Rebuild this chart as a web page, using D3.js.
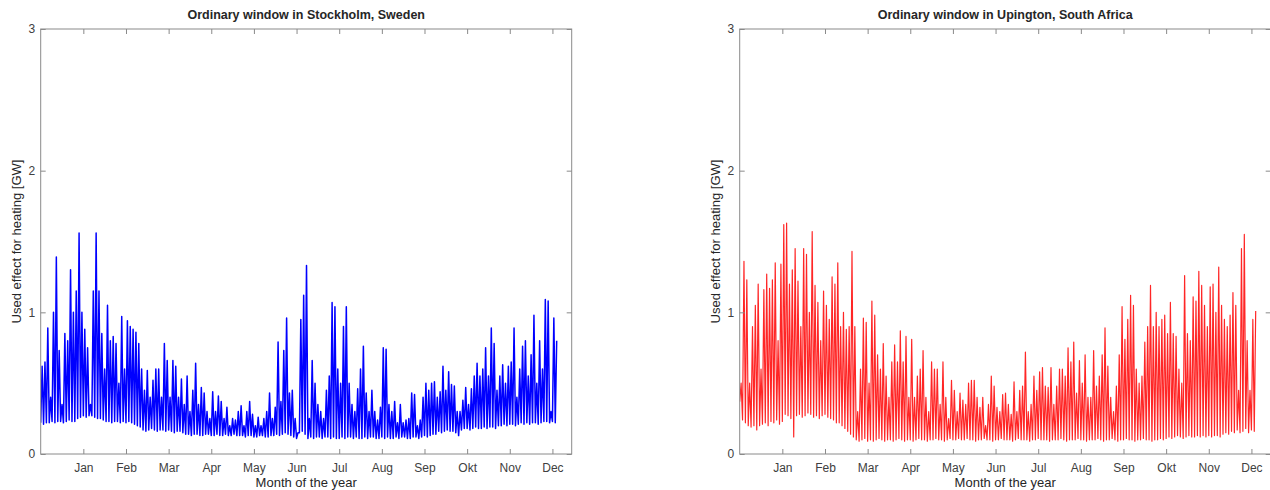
<!DOCTYPE html>
<html>
<head>
<meta charset="utf-8">
<title>Ordinary window</title>
<script src="https://cdn.jsdelivr.net/npm/d3@7"></script>
<style>
    body { margin: 0; background: #fff; }
    #chart { width: 1270px; height: 490px; }
    text { font-family: "Liberation Sans", Arial, Helvetica, sans-serif; fill: #262626; }
    .axis text { font-size: 12px; fill: #404040; }
    .axis path { display: none; }
    .axis line { stroke: #8a8a8a; }
</style>
</head>
<body>
<div id="chart"></div>
<script>

// hours between two samples of the curves (15 samples per month tick)
const sampleStep = 730 / 15;
const xMaxHours = 9090;

const monthLabels = ["Jan", "Feb", "Mar", "Apr", "May", "Jun", "Jul", "Aug", "Sep", "Okt", "Nov", "Dec"];
const monthTickHours = [730, 1460, 2190, 2920, 3650, 4380, 5110, 5840, 6570, 7300, 8030, 8760];
const yTickValues = [0, 1, 2, 3];

// Stockholm, upper value of every sample [GW]
const stockholmHi = [
    0.62, 0.65, 0.89, 0.40, 1.00, 1.39, 0.73, 0.35, 0.85, 0.80,
    1.30, 1.00, 1.15, 1.56, 1.00, 0.88, 0.75, 0.35, 1.15, 1.56,
    1.15, 0.85, 0.60, 1.05, 0.80, 0.83, 0.78, 0.50, 0.97, 0.60,
    0.94, 0.90, 0.88, 0.86, 0.78, 0.60, 0.45, 0.59, 0.40, 0.52,
    0.60, 0.60, 0.40, 0.78, 0.66, 0.40, 0.66, 0.62, 0.40, 0.53,
    0.35, 0.55, 0.30, 0.45, 0.64, 0.35, 0.47, 0.43, 0.30, 0.25,
    0.44, 0.30, 0.41, 0.37, 0.25, 0.33, 0.20, 0.25, 0.24, 0.30,
    0.34, 0.20, 0.30, 0.37, 0.28, 0.20, 0.26, 0.20, 0.25, 0.30,
    0.43, 0.25, 0.33, 0.79, 0.37, 0.73, 0.96, 0.43, 0.45, 0.25,
    0.15, 0.95, 1.12, 1.33, 0.25, 0.66, 0.50, 0.35, 0.30, 0.25,
    0.45, 0.55, 1.07, 1.04, 0.60, 0.50, 0.90, 1.04, 0.50, 0.35,
    0.30, 0.46, 0.60, 0.76, 0.43, 0.30, 0.45, 0.30, 0.24, 0.33,
    0.75, 0.74, 0.35, 0.30, 0.37, 0.22, 0.35, 0.22, 0.24, 0.25,
    0.43, 0.42, 0.20, 0.24, 0.40, 0.50, 0.45, 0.50, 0.51, 0.40,
    0.44, 0.62, 0.45, 0.58, 0.49, 0.48, 0.30, 0.30, 0.38, 0.47,
    0.35, 0.46, 0.55, 0.64, 0.55, 0.60, 0.75, 0.55, 0.89, 0.78,
    0.45, 0.55, 0.63, 0.50, 0.62, 0.65, 0.89, 0.40, 0.60, 0.76,
    0.80, 0.55, 0.70, 0.98, 0.50, 0.80, 0.60, 1.09, 1.08, 0.30,
    0.96, 0.80
];

// Stockholm, lower value of every sample [GW]
const stockholmLo = [
    0.22, 0.21, 0.22, 0.22, 0.23, 0.22, 0.23, 0.23, 0.22, 0.23,
    0.24, 0.23, 0.23, 0.25, 0.26, 0.27, 0.26, 0.27, 0.27, 0.26,
    0.25, 0.25, 0.24, 0.23, 0.23, 0.22, 0.23, 0.23, 0.22, 0.23,
    0.22, 0.23, 0.22, 0.21, 0.20, 0.19, 0.17, 0.16, 0.17, 0.18,
    0.17, 0.16, 0.17, 0.17, 0.16, 0.17, 0.16, 0.15, 0.16, 0.16,
    0.15, 0.14, 0.14, 0.13, 0.14, 0.14, 0.13, 0.13, 0.14, 0.14,
    0.13, 0.13, 0.14, 0.13, 0.13, 0.14, 0.13, 0.13, 0.14, 0.13,
    0.13, 0.13, 0.12, 0.13, 0.13, 0.12, 0.12, 0.13, 0.13, 0.12,
    0.12, 0.13, 0.13, 0.14, 0.13, 0.14, 0.15, 0.14, 0.13, 0.12,
    0.11, 0.15, 0.16, 0.14, 0.11, 0.12, 0.11, 0.12, 0.12, 0.11,
    0.12, 0.12, 0.11, 0.12, 0.11, 0.11, 0.12, 0.11, 0.12, 0.12,
    0.11, 0.12, 0.11, 0.11, 0.12, 0.11, 0.12, 0.12, 0.11, 0.11,
    0.12, 0.11, 0.12, 0.11, 0.11, 0.12, 0.11, 0.12, 0.12, 0.11,
    0.11, 0.12, 0.12, 0.11, 0.12, 0.13, 0.12, 0.13, 0.14, 0.14,
    0.16, 0.15, 0.16, 0.17, 0.16, 0.16, 0.15, 0.13, 0.17, 0.18,
    0.18, 0.17, 0.18, 0.19, 0.18, 0.18, 0.19, 0.18, 0.19, 0.19,
    0.18, 0.20, 0.20, 0.21, 0.20, 0.21, 0.21, 0.20, 0.21, 0.22,
    0.21, 0.22, 0.21, 0.22, 0.22, 0.21, 0.22, 0.23, 0.23, 0.22,
    0.23, 0.22
];

// Upington, upper value of every sample [GW]
const upingtonHi = [
    0.50, 1.36, 1.23, 0.50, 0.90, 1.05, 1.20, 0.60, 1.16, 1.27,
    1.17, 1.23, 1.35, 0.80, 1.34, 1.62, 1.63, 1.20, 1.30, 1.45,
    1.22, 0.90, 1.45, 1.41, 1.00, 1.57, 1.19, 1.07, 0.80, 1.15,
    1.05, 0.95, 1.25, 1.20, 1.35, 0.90, 1.00, 0.88, 0.90, 1.43,
    0.90, 0.30, 0.60, 0.96, 0.93, 0.50, 1.08, 0.98, 0.70, 0.60,
    0.78, 0.55, 0.40, 0.65, 0.77, 0.65, 0.87, 0.65, 0.83, 0.40,
    0.81, 0.40, 0.55, 0.60, 0.73, 0.40, 0.30, 0.65, 0.60, 0.60,
    0.35, 0.65, 0.40, 0.25, 0.52, 0.45, 0.30, 0.43, 0.38, 0.35,
    0.50, 0.52, 0.52, 0.40, 0.33, 0.40, 0.20, 0.35, 0.55, 0.48,
    0.33, 0.30, 0.42, 0.43, 0.35, 0.28, 0.51, 0.30, 0.45, 0.48,
    0.72, 0.30, 0.35, 0.55, 0.45, 0.58, 0.61, 0.48, 0.47, 0.61,
    0.35, 0.48, 0.60, 0.60, 0.55, 0.75, 0.65, 0.79, 0.43, 0.66,
    0.50, 0.70, 0.40, 0.40, 0.73, 0.48, 0.55, 0.70, 0.89, 0.62,
    0.40, 0.30, 0.48, 0.70, 1.04, 0.81, 0.95, 1.12, 1.05, 0.60,
    0.50, 0.55, 0.79, 0.90, 1.19, 0.90, 1.00, 0.90, 0.95, 0.98,
    0.85, 1.07, 0.85, 0.83, 0.60, 0.50, 1.26, 0.85, 0.80, 1.11,
    1.08, 1.29, 1.19, 1.05, 0.90, 1.18, 1.20, 1.00, 1.32, 1.05,
    0.95, 0.90, 0.98, 1.14, 1.05, 0.45, 1.45, 1.55, 0.80, 0.45,
    0.95, 1.01
];

// Upington, lower value of every sample [GW]
const upingtonLo = [
    0.37, 0.24, 0.22, 0.20, 0.19, 0.20, 0.17, 0.20, 0.21, 0.22,
    0.20, 0.23, 0.22, 0.24, 0.21, 0.23, 0.28, 0.27, 0.25, 0.12,
    0.27, 0.28, 0.26, 0.27, 0.29, 0.28, 0.26, 0.27, 0.25, 0.27,
    0.28, 0.26, 0.25, 0.24, 0.22, 0.22, 0.20, 0.18, 0.16, 0.14,
    0.12, 0.10, 0.09, 0.10, 0.11, 0.09, 0.10, 0.09, 0.10, 0.11,
    0.10, 0.09, 0.10, 0.10, 0.09, 0.10, 0.11, 0.10, 0.09, 0.10,
    0.10, 0.09, 0.10, 0.11, 0.10, 0.10, 0.09, 0.10, 0.10, 0.11,
    0.10, 0.10, 0.09, 0.10, 0.11, 0.10, 0.10, 0.11, 0.10, 0.10,
    0.11, 0.10, 0.10, 0.09, 0.10, 0.10, 0.11, 0.10, 0.10, 0.09,
    0.10, 0.10, 0.11, 0.10, 0.10, 0.10, 0.09, 0.10, 0.11, 0.10,
    0.10, 0.10, 0.09, 0.10, 0.10, 0.11, 0.10, 0.10, 0.10, 0.09,
    0.10, 0.10, 0.10, 0.11, 0.10, 0.09, 0.10, 0.10, 0.10, 0.11,
    0.10, 0.10, 0.09, 0.10, 0.10, 0.10, 0.11, 0.10, 0.09, 0.10,
    0.10, 0.11, 0.10, 0.09, 0.10, 0.10, 0.11, 0.10, 0.10, 0.09,
    0.10, 0.10, 0.11, 0.10, 0.10, 0.09, 0.10, 0.10, 0.11, 0.10,
    0.11, 0.12, 0.11, 0.12, 0.13, 0.12, 0.11, 0.12, 0.13, 0.12,
    0.12, 0.13, 0.12, 0.13, 0.12, 0.13, 0.12, 0.13, 0.13, 0.12,
    0.14, 0.15, 0.14, 0.16, 0.15, 0.17, 0.15, 0.16, 0.18, 0.15,
    0.17, 0.16
];

const panels = [
    {title: "Ordinary window in Stockholm, Sweden", hi: stockholmHi, lo: stockholmLo, color: "#0000ff", width: 1.5, opacity: 1, left: 40.7},
    {title: "Ordinary window in Upington, South Africa", hi: upingtonHi, lo: upingtonLo, color: "#ff0000", width: 1.2, opacity: 0.85, left: 739.7}
];


class WindowVis {

    constructor(svg, panel) {
        this.svg = svg;
        this.panel = panel;

        this.initVis();
    }

    initVis () {
        let vis = this;

        vis.margin = {top: 29, left: vis.panel.left};
        vis.width = 531;
        vis.height = 425;

        vis.g = vis.svg.append("g")
            .attr("transform", `translate(${vis.margin.left}, ${vis.margin.top})`);

        vis.x = d3.scaleLinear()
            .domain([0, xMaxHours])
            .range([0, vis.width]);

        vis.y = d3.scaleLinear()
            .domain([0, 3])
            .range([vis.height, 0]);

        vis.clipId = "clip-" + Math.round(vis.margin.left);
        vis.g.append("clipPath")
            .attr("id", vis.clipId)
            .append("rect")
            .attr("width", vis.width)
            .attr("height", vis.height);

        vis.wrangleData();
    }

    wrangleData () {
        let vis = this;

        // every sample gives a low point and a peak half a step later
        vis.displayData = [];
        vis.panel.lo.forEach((lo, i) => {
            vis.displayData.push({hour: i * sampleStep, value: lo});
            vis.displayData.push({hour: i * sampleStep + sampleStep / 2, value: vis.panel.hi[i]});
        });

        vis.updateVis();
    }

    updateVis() {
        let vis = this;

        let line = d3.line()
            .x(d => vis.x(d.hour))
            .y(d => vis.y(d.value));

        vis.g.append("path")
            .datum(vis.displayData)
            .attr("clip-path", `url(#${vis.clipId})`)
            .attr("fill", "none")
            .attr("stroke", vis.panel.color)
            .attr("stroke-width", vis.panel.width)
            .attr("stroke-opacity", vis.panel.opacity)
            .attr("stroke-linejoin", "round")
            .attr("d", line);

        // box
        vis.g.append("rect")
            .attr("width", vis.width)
            .attr("height", vis.height)
            .attr("fill", "none")
            .attr("stroke", "#8a8a8a")
            .attr("stroke-width", 1);

        vis.xAxis = d3.axisBottom(vis.x)
            .tickValues(monthTickHours)
            .tickFormat((d, i) => monthLabels[i])
            .tickSizeInner(-5)
            .tickSizeOuter(0)
            .tickPadding(9.5);

        vis.g.append("g")
            .attr("class", "x-axis axis")
            .attr("transform", `translate(0, ${vis.height})`)
            .call(vis.xAxis);

        vis.g.append("g")
            .attr("class", "axis")
            .call(d3.axisTop(vis.x).tickValues(monthTickHours).tickFormat("").tickSizeInner(-5).tickSizeOuter(0));

        vis.yAxis = d3.axisLeft(vis.y)
            .tickValues(yTickValues)
            .tickFormat(d3.format("d"))
            .tickSizeInner(-5)
            .tickSizeOuter(0)
            .tickPadding(5.5);

        vis.g.append("g")
            .attr("class", "y-axis axis")
            .call(vis.yAxis);

        vis.g.append("g")
            .attr("class", "axis")
            .attr("transform", `translate(${vis.width}, 0)`)
            .call(d3.axisRight(vis.y).tickValues(yTickValues).tickFormat("").tickSizeInner(-5).tickSizeOuter(0));

        vis.g.append("text")
            .attr("x", vis.width / 2)
            .attr("y", -10)
            .attr("text-anchor", "middle")
            .attr("font-weight", "bold")
            .attr("font-size", "12.5px")
            .attr("fill", "#000")
            .text(vis.panel.title);

        vis.g.append("text")
            .attr("x", vis.width / 2)
            .attr("y", vis.height + 33)
            .attr("text-anchor", "middle")
            .attr("font-size", "13px")
            .text("Month of the year");

        vis.g.append("text")
            .attr("transform", `translate(-20, ${vis.height / 2}) rotate(-90)`)
            .attr("text-anchor", "middle")
            .attr("font-size", "13px")
            .text("Used effect for heating [GW]");
    }
}

let svg = d3.select("#chart").append("svg")
    .attr("width", 1270)
    .attr("height", 490);

panels.forEach(p => new WindowVis(svg, p));

</script>
</body>
</html>
